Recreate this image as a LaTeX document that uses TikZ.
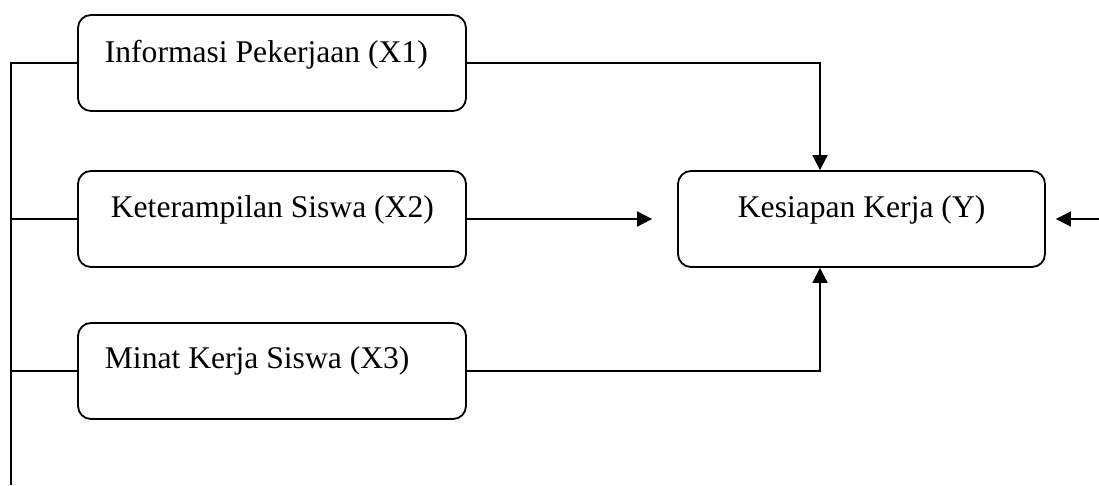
\documentclass[tikz,border=0pt]{standalone}
\usepackage{fontspec}
\setmainfont{Liberation Serif}
\usetikzlibrary{arrows.meta}
\begin{document}
\begin{tikzpicture}[x=1pt,y=-1pt, line width=1.8pt,
  box/.style={draw, rounded corners=13pt, minimum width=388pt, minimum height=96pt, inner sep=0pt, line width=1.8pt},
  lbl/.style={anchor=base west, inner sep=0pt, font=\fontsize{31.6}{38}\selectfont},
  arr/.style={-{Triangle[length=15pt,width=15pt]}}]
\useasboundingbox (0,0) rectangle (1099,485);
% boxes
\node[box] (X1) at (272,63) {};
\node[box] (X2) at (272,219) {};
\node[box] (X3) at (272,371) {};
\node[box, minimum width=367pt] (Y) at (861.5,219) {};
% texts
\node[lbl] (t1) at (104,62) {Informasi Pekerjaan (X1)};
\node[lbl] (t2) at (110,217) {Keterampilan Siswa (X2)};
\node[lbl] (t3) at (104,368) {Minat Kerja Siswa (X3)};
\node[lbl] (ty) at (737,217) {Kesiapan Kerja (Y)};
% left bus
\coordinate (bb) at (11,485);
\draw (X1.west) -| (bb);
\draw (X2.west) -- (X2.west -| bb);
\draw (X3.west) -- (X3.west -| bb);
% arrows
\draw[arr] (X1.east) -| ([xshift=-41.5pt]Y.north);
\draw[arr] (X2.east) -- ([xshift=-25pt]Y.west);
\draw[arr] (X3.east) -| ([xshift=-41.5pt]Y.south);
\coordinate (r) at (1099,219);
\draw[arr] (r) -- ([xshift=10pt]Y.east);
\end{tikzpicture}
\end{document}
